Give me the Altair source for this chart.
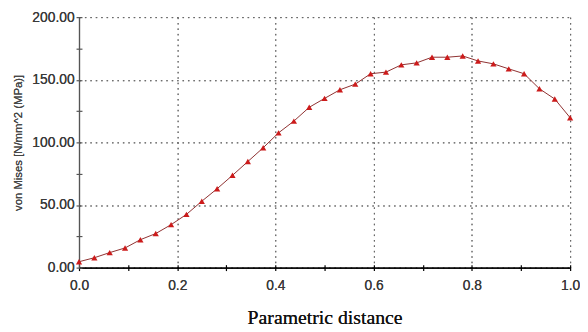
import altair as alt
import pandas as pd

distance = [0.0, 0.03125, 0.0625, 0.09375, 0.125, 0.15625, 0.1875, 0.21875,
            0.25, 0.28125, 0.3125, 0.34375, 0.375, 0.40625, 0.4375, 0.46875,
            0.5, 0.53125, 0.5625, 0.59375, 0.625, 0.65625, 0.6875, 0.71875,
            0.75, 0.78125, 0.8125, 0.84375, 0.875, 0.90625, 0.9375, 0.96875, 1.0]
von_mises = [4.7, 7.9, 12.0, 15.7, 22.3, 27.2, 34.3, 42.5,
             53.0, 63.0, 73.7, 84.7, 95.7, 107.6, 117.0, 128.0,
             135.1, 142.0, 146.5, 154.8, 156.1, 161.9, 163.5, 168.0,
             168.0, 169.0, 165.0, 162.7, 158.7, 154.8, 142.8, 134.6, 119.7]

x_major = [0.0, 0.2, 0.4, 0.6, 0.8, 1.0]
x_minor = [0.0, 0.1, 0.2, 0.3, 0.4, 0.5, 0.6, 0.7, 0.8, 0.9, 1.0]
y_major = [0, 50, 100, 150, 200]
y_minor = [0, 25, 50, 75, 100, 125, 150, 175, 200]

df = pd.DataFrame({"d": distance, "v": von_mises})

xscale = alt.Scale(domain=[0, 1], nice=False, zero=False)
yscale = alt.Scale(domain=[0, 200], nice=False)

grid_dash = [1.5, 4]

x_main = alt.Axis(orient="bottom", values=x_major, format=".1f", grid=True,
                  gridDash=grid_dash, gridColor="#666", gridOpacity=1, gridWidth=1,
                  ticks=False, domainColor="#000", domainWidth=1.2,
                  labelFont="Liberation Sans", labelFontSize=14, labelColor="#3a3a3a",
                  labelPadding=11, labelFlush=False,
                  title="Parametric distance", titleFont="Liberation Serif",
                  titleFontSize=20, titleFontWeight="normal", titleColor="#111",
                  titlePadding=16)
y_main = alt.Axis(orient="left", values=y_major, format=".2f", grid=True,
                  gridDash=grid_dash, gridColor="#666", gridOpacity=1, gridWidth=1,
                  ticks=False, domainColor="#555", domainWidth=1.2,
                  labelFont="Liberation Sans", labelFontSize=14, labelColor="#3a3a3a",
                  labelPadding=5, labelFlush=False,
                  title="von Mises [N/mm^2 (MPa)]", titleFont="Liberation Sans",
                  titleFontSize=11.5, titleFontWeight="normal", titleColor="#444",
                  titlePadding=8)

x_ticks = alt.Axis(orient="bottom", values=x_minor, labels=False, grid=False,
                   domain=False, ticks=True, tickSize=6, offset=-3,
                   tickColor="#000", tickWidth=1.2, title=None)
y_ticks = alt.Axis(orient="left", values=y_minor, labels=False, grid=False,
                   domain=False, ticks=True, tickSize=6, offset=-3,
                   tickColor="#555", tickWidth=1.2, title=None)

base = alt.Chart(df)

line = base.mark_line(color="#8e3030", strokeWidth=1).encode(
    x=alt.X("d:Q", scale=xscale, axis=x_main),
    y=alt.Y("v:Q", scale=yscale, axis=y_main),
)
pts = base.mark_point(shape="triangle-up", filled=True, size=40,
                      color="#cc1b1b", opacity=1).encode(
    x=alt.X("d:Q", scale=xscale, axis=x_main),
    y=alt.Y("v:Q", scale=yscale, axis=y_main),
)
tick_layer = base.mark_point(opacity=0, size=1).encode(
    x=alt.X("d:Q", scale=xscale, axis=x_ticks),
    y=alt.Y("v:Q", scale=yscale, axis=y_ticks),
)

chart = alt.layer(line, pts, tick_layer).resolve_axis(
    x="independent", y="independent"
).properties(
    width=498, height=254,
    autosize=alt.AutoSizeParams(type="none"),
    padding={"left": 72, "top": 7, "right": 10, "bottom": 62},
    background="#ffffff",
).configure_view(stroke=None)

chart.save("out.html", embed_options={"renderer": "svg", "actions": False})
